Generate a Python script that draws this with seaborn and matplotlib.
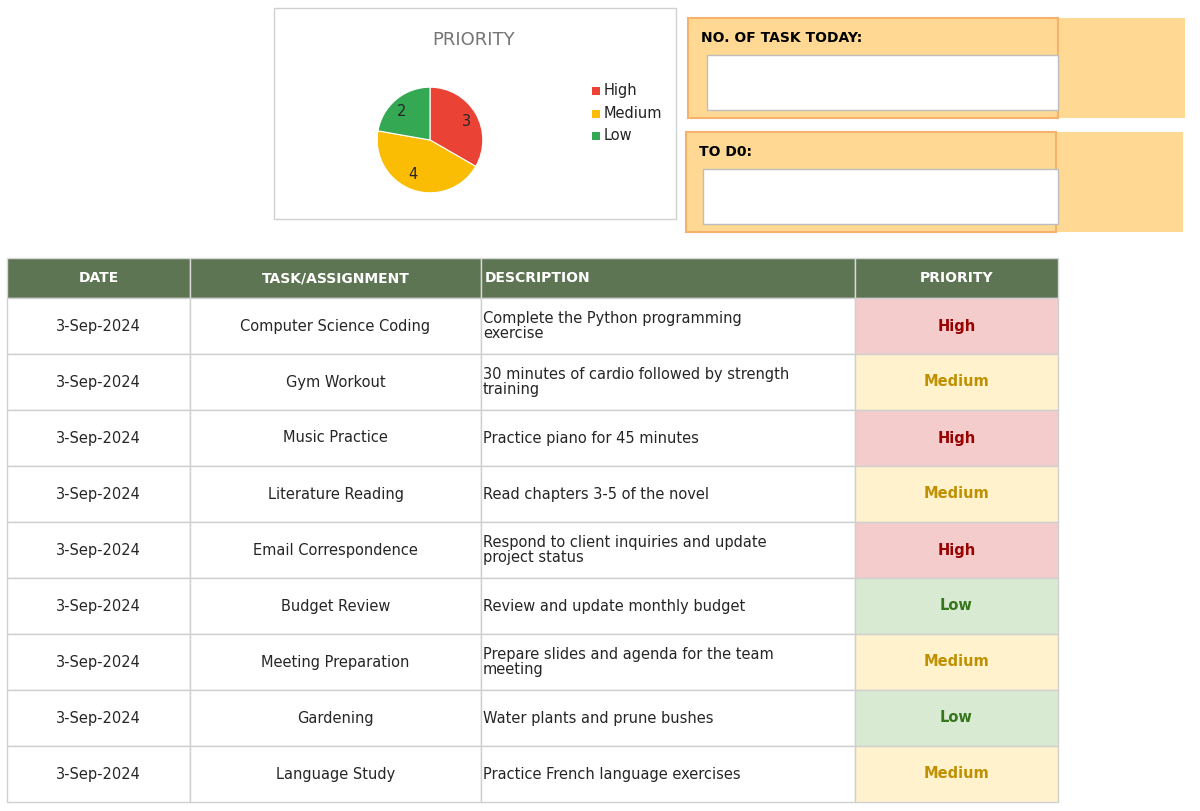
import matplotlib.pyplot as plt
import seaborn as sns
from matplotlib.patches import Rectangle

sns.set_style("white")
plt.rcParams['font.family'] = ['DejaVu Sans']

dates = ["3-Sep-2024"] * 9
tasks = ["Computer Science Coding", "Gym Workout", "Music Practice", "Literature Reading",
         "Email Correspondence", "Budget Review", "Meeting Preparation", "Gardening", "Language Study"]
descriptions = ["Complete the Python programming\nexercise",
                "30 minutes of cardio followed by strength\ntraining",
                "Practice piano for 45 minutes",
                "Read chapters 3-5 of the novel",
                "Respond to client inquiries and update\nproject status",
                "Review and update monthly budget",
                "Prepare slides and agenda for the team\nmeeting",
                "Water plants and prune bushes",
                "Practice French language exercises"]
priorities = ["High", "Medium", "High", "Medium", "High", "Low", "Medium", "Low", "Medium"]
headers = ["DATE", "TASK/ASSIGNMENT", "DESCRIPTION", "PRIORITY"]
levels = ["High", "Medium", "Low"]
counts = [priorities.count(p) for p in levels]

pie_colors = {"High": "#EA4335", "Medium": "#FBBC04", "Low": "#34A853"}
cell_bg = {"High": "#F4CCCC", "Medium": "#FFF2CC", "Low": "#D9EAD3"}
cell_fg = {"High": "#990000", "Medium": "#BF9000", "Low": "#38761D"}

fig = plt.figure(figsize=(12, 8.11), dpi=100)
bg = fig.add_axes([0, 0, 1, 1])
bg.set_xlim(0, 1200)
bg.set_ylim(811, 0)
bg.axis('off')

# chart frame
bg.add_patch(Rectangle((274, 8), 402, 211, fc='white', ec='#D0D0D0', lw=1))
bg.text(474, 40, "PRIORITY", ha='center', va='center', fontsize=13, color='#757575')

# orange boxes
for y0, x0, label, ix in [(18, 688, "NO. OF TASK TODAY:", 707), (132, 686, "TO D0:", 703)]:
    bg.add_patch(Rectangle((x0, y0), 497, 100, fc='#FFD993', ec='none'))
    bg.add_patch(Rectangle((x0, y0), 370, 100, fc='none', ec='#F6B26B', lw=1.5))
    bg.text(x0 + 13, y0 + 20, label, fontsize=10, fontweight='bold', va='center', color='black')
    bg.add_patch(Rectangle((ix, y0 + 37), 1058 - ix, 55, fc='white', ec='#BDBDBD', lw=1))

# table
col_x = [7, 190, 481, 855, 1058]
head_top, head_h, row_h = 258, 40, 56
for i, h in enumerate(headers):
    x0, x1 = col_x[i], col_x[i + 1]
    bg.add_patch(Rectangle((x0, head_top), x1 - x0, head_h, fc='#5E7554', ec='#D9D9D9', lw=1))
    tx = 485 if i == 2 else (x0 + x1) / 2
    bg.text(tx, head_top + head_h / 2, h, ha='left' if i == 2 else 'center', va='center',
            color='white', fontsize=10, fontweight='bold')

for r in range(len(tasks)):
    y0 = head_top + head_h + r * row_h
    yc = y0 + row_h / 2
    p = priorities[r]
    for i in range(4):
        x0, x1 = col_x[i], col_x[i + 1]
        fc = cell_bg[p] if i == 3 else 'white'
        bg.add_patch(Rectangle((x0, y0), x1 - x0, row_h, fc=fc, ec='#D0D0D0', lw=1))
    bg.text((col_x[0] + col_x[1]) / 2, yc, dates[r], ha='center', va='center', fontsize=10.5)
    bg.text((col_x[1] + col_x[2]) / 2, yc, tasks[r], ha='center', va='center', fontsize=10.5)
    bg.text(483, yc, descriptions[r], ha='left', va='center', fontsize=10.5, linespacing=0.95)
    bg.text((col_x[3] + col_x[4]) / 2, yc, p, ha='center', va='center', fontsize=10.5,
            fontweight='bold', color=cell_fg[p])

# pie
pax = fig.add_axes([(430 - 66) / 1200, 1 - (140 + 66) / 811, 132 / 1200, 132 / 811])
wedges, texts = pax.pie(counts, colors=[pie_colors[l] for l in levels], startangle=90,
                        counterclock=False, labels=[str(c) for c in counts], labeldistance=0.7,
                        wedgeprops=dict(ec='white', lw=0.8), textprops=dict(fontsize=10.5))
pax.set_aspect('equal')
for j, l in enumerate(levels):
    y = 91 + j * 22.5
    bg.add_patch(Rectangle((592, y - 4), 8, 8, fc=pie_colors[l], ec='none'))
    bg.text(604, y, l, va='center', fontsize=10.5, color='#222222')

fig.savefig("out.png", dpi=100)
